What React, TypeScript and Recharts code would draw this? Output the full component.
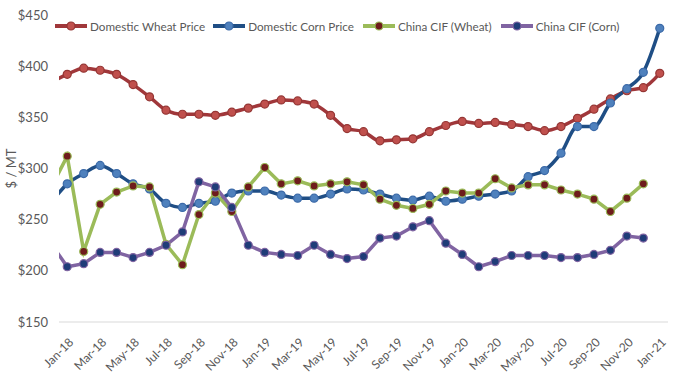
import React from "react"
import { LineChart, Line, XAxis, YAxis, Legend } from "recharts"

// Dec-17 is only there so the lines run in from the left edge like in Excel
const months = [
  "Dec-17",
  "Jan-18", "Feb-18", "Mar-18", "Apr-18", "May-18", "Jun-18", "Jul-18", "Aug-18", "Sep-18", "Oct-18", "Nov-18", "Dec-18",
  "Jan-19", "Feb-19", "Mar-19", "Apr-19", "May-19", "Jun-19", "Jul-19", "Aug-19", "Sep-19", "Oct-19", "Nov-19", "Dec-19",
  "Jan-20", "Feb-20", "Mar-20", "Apr-20", "May-20", "Jun-20", "Jul-20", "Aug-20", "Sep-20", "Oct-20", "Nov-20", "Dec-20",
  "Jan-21",
]

const domesticWheat = [
  384,
  392, 398, 396, 392, 382, 370, 357, 353, 353, 352, 355, 359,
  363, 367, 366, 363, 352, 339, 336, 327, 328, 329, 336, 342,
  346, 344, 345, 343, 341, 337, 341, 349, 358, 368, 376, 379,
  393,
]

const domesticCorn = [
  266,
  285, 295, 303, 295, 285, 280, 266, 262, 266, 268, 276, 278,
  278, 274, 271, 271, 275, 280, 279, 275, 271, 269, 273, 268,
  270, 273, 275, 278, 292, 298, 315, 341, 341, 364, 378, 394,
  437,
]

const chinaWheat = [
  281,
  312, 219, 265, 277, 283, 282, 226, 206, 255, 276, 258, 282,
  301, 285, 288, 283, 285, 287, 284, 270, 264, 261, 265, 278,
  276, 276, 290, 281, 284, 284, 279, 275, 270, 258, 271, 285,
  null,
]

const chinaCorn = [
  227,
  204, 207, 218, 218, 213, 218, 225, 238, 287, 282, 262, 225,
  218, 216, 215, 225, 216, 212, 214, 232, 234, 243, 249, 227,
  216, 204, 209, 215, 215, 215, 213, 213, 216, 220, 234, 232,
  null,
]

const yTicks = [150, 200, 250, 300, 350, 400, 450]
const xTicks = [0, 2, 4, 6, 8, 10, 12, 14, 16, 18, 20, 22, 24, 26, 28, 30, 32, 34, 36]

const data = months.map((m, i) => ({
  x: i - 1,
  month: m,
  wheat: domesticWheat[i],
  corn: domesticCorn[i],
  cifWheat: chinaWheat[i],
  cifCorn: chinaCorn[i],
}))

const series = [
  { key: "wheat", name: "Domestic Wheat Price", line: "#a0373a", fill: "#c0504d", ring: "#943634", type: "monotone" },
  { key: "corn", name: "Domestic Corn Price", line: "#1f4e85", fill: "#4f81bd", ring: "#3c6aa8", type: "monotone" },
  { key: "cifWheat", name: "China CIF (Wheat)", line: "#9bbb59", fill: "#6e1c1c", ring: "#9bbb59", type: "linear" },
  { key: "cifCorn", name: "China CIF (Corn)", line: "#8064a2", fill: "#1f3c78", ring: "#8064a2", type: "linear" },
]

const FONT = "Lato, 'Open Sans', sans-serif"
const GREY = "#595959"

function makeDot(fill: string, ring: string) {
  return (props: any) => {
    const { cx, cy, index, payload, value } = props
    if (payload.x < 0 || value == null || cx == null) return <g key={`d-${index}`} />
    return <circle key={`d-${index}`} cx={cx} cy={cy} r={4} fill={fill} stroke={ring} strokeWidth={1.2} />
  }
}

function MonthTick(props: any) {
  const { x, y, payload } = props
  return (
    <g transform={`translate(${x + 4},${y + 10})`}>
      <text x={0} y={0} dy="0.35em" textAnchor="end" transform="rotate(-45)" fill={GREY} fontSize={12} fontFamily={FONT}>
        {months[payload.value + 1]}
      </text>
    </g>
  )
}

function LegendContent() {
  const gaps = [0, 8, 9, 9]
  return (
    <div style={{ display: "flex", alignItems: "center", fontFamily: FONT, fontSize: 11.7, color: GREY }}>
      {series.map((s, i) => (
        <div key={s.key} style={{ display: "flex", alignItems: "center", marginLeft: gaps[i] }}>
          <svg width={32} height={10} style={{ marginRight: 3 }}>
            <line x1={0} y1={5} x2={32} y2={5} stroke={s.line} strokeWidth={4} strokeLinecap="round" />
            <circle cx={16} cy={5} r={4} fill={s.fill} stroke={s.ring} strokeWidth={1.2} />
          </svg>
          <span style={{ whiteSpace: "nowrap" }}>{s.name}</span>
        </div>
      ))}
    </div>
  )
}

export default function App() {
  return (
    <div style={{ position: "absolute", left: 0, top: 0, width: 680, height: 384, background: "#fff" }}>
      <LineChart width={680} height={384} data={data} margin={{ top: 15, right: 12, bottom: 0, left: 0 }}>
        <XAxis
          dataKey="x"
          type="number"
          domain={[-0.5, 36.5]}
          allowDataOverflow
          ticks={xTicks}
          interval={0}
          tick={<MonthTick />}
          tickLine={false}
          axisLine={{ stroke: "#d9d9d9", strokeWidth: 1 }}
          height={62}
        />
        <YAxis
          width={59}
          domain={[150, 450]}
          ticks={yTicks}
          allowDataOverflow
          axisLine={false}
          tickLine={false}
          tickSize={6}
          tickMargin={5}
          tickFormatter={(v: number) => `$${v}`}
          tick={{ fill: GREY, fontSize: 13, fontFamily: FONT }}
          label={({ viewBox }: any) => {
            const cy = viewBox.y + viewBox.height / 2
            return (
              <text x={16} y={cy} transform={`rotate(-90 16 ${cy})`} textAnchor="middle" fill={GREY} fontSize={13} fontFamily={FONT}>
                $ / MT
              </text>
            )
          }}
        />
        <Legend
          layout="horizontal"
          verticalAlign="middle"
          align="center"
          content={<LegendContent />}
          wrapperStyle={{ top: 19, left: 55, width: 620 }}
        />
        {series.map((s) => (
          <Line
            key={s.key}
            dataKey={s.key}
            name={s.name}
            type={s.type as any}
            stroke={s.line}
            strokeWidth={3.5}
            dot={makeDot(s.fill, s.ring)}
            activeDot={false}
            isAnimationActive={false}
          />
        ))}
      </LineChart>
    </div>
  )
}
